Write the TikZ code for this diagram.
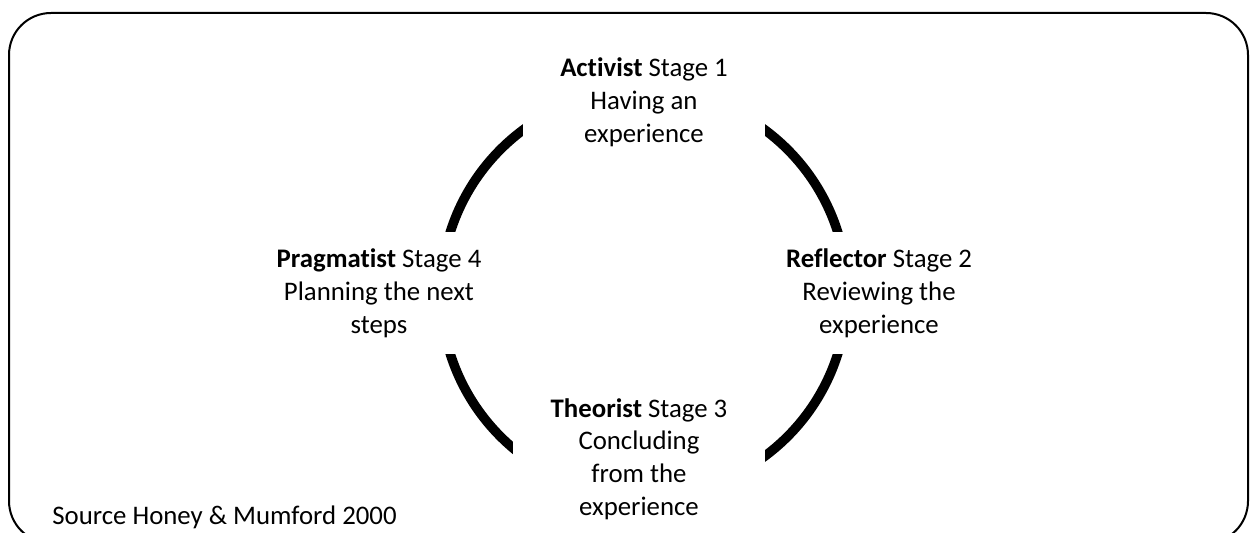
\documentclass[tikz,border=0pt]{standalone}
\usepackage{fontspec}
\setmainfont{Carlito}[Ligatures=NoCommon]
\usetikzlibrary{positioning}
\tikzset{
  stage/.style={fill=white, align=center, inner sep=0pt, font=\fontsize{13.4}{16.4}\selectfont},
  note/.style={anchor=west, inner sep=0pt, font=\fontsize{13.4}{16.4}\selectfont}
}

\begin{document}
\begin{tikzpicture}[x=0.5pt, y=-0.5pt]
\useasboundingbox (0,0) rectangle (1257,533);
%% outer frame
  \draw[line width=1pt, rounded corners=21pt] (9,13) rectangle (1248,543);
%% the cycle, cut open by the stage boxes
  \coordinate (hub) at (644,293);
  \draw[line width=4.75pt] (hub) circle[radius=203];
%% stages
	\node[stage, minimum width=121pt, minimum height=57.5pt] (activist) at (644,102.5)
	  {\textbf{Activist} Stage 1\\Having an\\experience};
	\node[stage, minimum width=100pt, minimum height=61pt] (reflector) at (879,293)
	  {\textbf{Reflector} Stage 2\\Reviewing the\\experience};
	\node[stage, minimum width=126pt, minimum height=63pt] (theorist) at (639,459)
	  {\textbf{Theorist} Stage 3\\Concluding\\from the\\experience};
	\node[stage, minimum width=100pt, minimum height=61pt] (pragmatist) at (379,293)
	  {\textbf{Pragmatist} Stage 4\\Planning the next\\steps};
%% source
	\node[note] (source) at (52,517) {Source Honey \& Mumford 2000};
\end{tikzpicture}
\end{document}
